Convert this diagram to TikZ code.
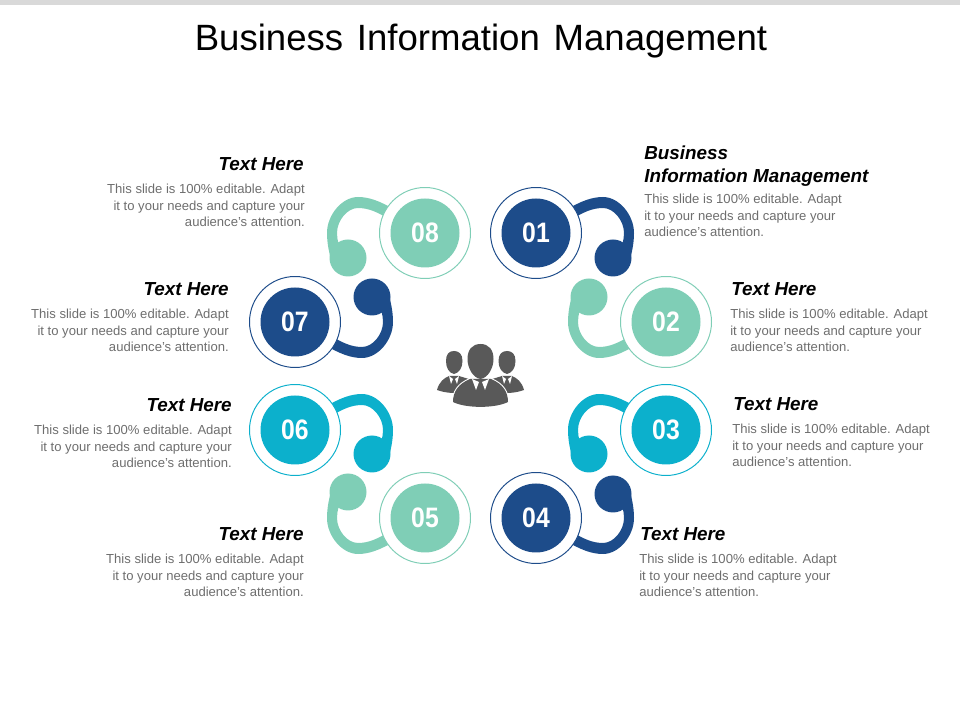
\documentclass[tikz,border=0pt]{standalone}
\usepackage{fontspec}
\setmainfont{Liberation Sans}
\newfontfamily\numfont[FakeStretch=0.88]{Liberation Sans}
\usetikzlibrary{shapes}
\definecolor{navyc}{HTML}{1D4C8A}
\definecolor{mintc}{HTML}{7FCEB6}
\definecolor{cyanc}{HTML}{0CB0CC}
\definecolor{bodyc}{HTML}{6E6E6E}
\definecolor{iconc}{HTML}{595959}
\newcommand{\bodytxt}{This slide is 100\% editable. Adapt\\it to your needs and capture your\\audience's attention.}
\tikzset{
    ring/.style = {circle, fill=white, line width=0.7pt, minimum size=91*0.025cm, inner sep=0pt},
    disc/.style = {circle, minimum size=69*0.025cm, inner sep=0pt, text=white, font=\numfont\fontsize{20}{20}\selectfont\bfseries},
    ball/.style = {circle, minimum size=37*0.025cm, inner sep=0pt},
    headt/.style = {inner sep=0pt, text=black, font=\fontsize{13.4}{16.4}\selectfont\bfseries\itshape},
    bodyt/.style = {inner sep=0pt, text=bodyc, font=\fontsize{9.3}{11.6}\selectfont},
    pics/arm/.style = {code={
        \fill (30,-23) .. controls (45,-32) and (56,-36) .. (67,-36)
            .. controls (83,-36) and (98,-18) .. (98,0)
            .. controls (98,10) and (96,20) .. (93,30) -- (80,25)
            -- (86,12) .. controls (87.5,7) and (88,4) .. (88,0)
            .. controls (88,-12) and (78,-25) .. (67,-25)
            .. controls (57,-25) and (47,-21) .. (35,-13) -- cycle;
    }},
    pics/staff/.style = {code={
        \fill (437,390) .. controls (439,382) and (444,378) .. (449,376) -- (459,376) -- (472,380) -- (466,392) .. controls (456,394) and (445,393) .. (437,390) -- cycle;
        \fill (454,374) .. controls (449,373) and (446,368) .. (446,361) .. controls (446,354) and (449,351) .. (454,351) .. controls (459,351) and (462.5,354) .. (462.5,361) .. controls (462.5,368) and (459,373) .. (454,374) -- cycle;
        \fill (524,390) .. controls (522,382) and (517,378) .. (512,376) -- (502,376) -- (489,380) -- (495,392) .. controls (505,394) and (516,393) .. (524,390) -- cycle;
        \fill (507,374) .. controls (512,373) and (515.5,368) .. (515.5,361) .. controls (515.5,354) and (512,351) .. (507,351) .. controls (502,351) and (498.5,354) .. (498.5,361) .. controls (498.5,368) and (502,373) .. (507,374) -- cycle;
        \draw[white, line width=1.5pt] (453,402) .. controls (453,392) and (458,384) .. (470,379) -- (491,379) .. controls (503,384) and (508,392) .. (508,402);
        \fill (453,402) .. controls (453,392) and (458,384) .. (470,379) -- (491,379) .. controls (503,384) and (508,392) .. (508,402) .. controls (495,408.5) and (466,408.5) .. (453,402) -- cycle;
        \fill (480.5,344) .. controls (472,344) and (467.5,350) .. (467.5,359) .. controls (467.5,368) and (473,378) .. (480.5,379) .. controls (488,378) and (493.5,368) .. (493.5,359) .. controls (493.5,350) and (489,344) .. (480.5,344) -- cycle;
        \fill[white] (472,379) -- (479,382) -- (476,390) -- cycle;
        \fill[white] (489,379) -- (482,382) -- (485,390) -- cycle;
        \fill[white] (449,376) -- (453,379) -- (451,384) -- cycle;
        \fill[white] (459,376) -- (455,379) -- (457,384) -- cycle;
        \fill[white] (512,376) -- (508,379) -- (510,384) -- cycle;
        \fill[white] (502,376) -- (506,379) -- (504,384) -- cycle;
    }}
}
\begin{document}
\begin{tikzpicture}[x=0.025cm,y=-0.025cm]
\useasboundingbox (0,0) rectangle (960,720);
\fill[black!15] (0,0) rectangle (960,5);
\node[inner sep=0pt, font=\fontsize{26}{30}\selectfont] at (481,41) (title) {Business\hspace{0.1em} Information\hspace{0.1em} Management};
%
\pic[navyc] at (536,233) {arm};
\pic[mintc,xscale=-1,yscale=-1] at (666,322) {arm};
\pic[cyanc,xscale=-1] at (666,430) {arm};
\pic[navyc,yscale=-1] at (536,518) {arm};
\pic[mintc,xscale=-1,yscale=-1] at (425,518) {arm};
\pic[cyanc] at (295,430) {arm};
\pic[navyc,yscale=-1] at (295,322) {arm};
\pic[mintc,xscale=-1] at (425,233) {arm};
%
\node[ball,fill=navyc] at (613,258) (b1) {};
\node[ball,fill=mintc] at (589,297) (b2) {};
\node[ball,fill=cyanc] at (589,454) (b3) {};
\node[ball,fill=navyc] at (613,494) (b4) {};
\node[ball,fill=mintc] at (348,492) (b5) {};
\node[ball,fill=cyanc] at (372,454) (b6) {};
\node[ball,fill=navyc] at (372,297) (b7) {};
\node[ball,fill=mintc] at (348,258) (b8) {};
%
\node[ring,draw=navyc] at (536,233) (r1) {};
\node[ring,draw=mintc] at (666,322) (r2) {};
\node[ring,draw=cyanc] at (666,430) (r3) {};
\node[ring,draw=navyc] at (536,518) (r4) {};
\node[ring,draw=mintc] at (425,518) (r5) {};
\node[ring,draw=cyanc] at (295,430) (r6) {};
\node[ring,draw=navyc] at (295,322) (r7) {};
\node[ring,draw=mintc] at (425,233) (r8) {};
%
\node[disc,fill=navyc] at (r1) (a1) {01};
\node[disc,fill=mintc] at (r2) (a2) {02};
\node[disc,fill=cyanc] at (r3) (a3) {03};
\node[disc,fill=navyc] at (r4) (a4) {04};
\node[disc,fill=mintc] at (r5) (a5) {05};
\node[disc,fill=cyanc] at (r6) (a6) {06};
\node[disc,fill=navyc] at (r7) (a7) {07};
\node[disc,fill=mintc] at (r8) (a8) {08};
%
\pic[iconc] at (0,0) {staff};
%
\node[headt,anchor=west,align=left] at (644,166) (h1) {Business\\Information Management};
\node[headt,anchor=west] at (731,289) (h2) {Text Here};
\node[headt,anchor=west] at (733,404) (h3) {Text Here};
\node[headt,anchor=west] at (640,534) (h4) {Text Here};
\node[headt,anchor=east] at (304,534) (h5) {Text Here};
\node[headt,anchor=east] at (232,405) (h6) {Text Here};
\node[headt,anchor=east] at (229,289) (h7) {Text Here};
\node[headt,anchor=east] at (304,164) (h8) {Text Here};
%
\node[bodyt,anchor=west,align=left] at (644,215.5) (t1) {\bodytxt};
\node[bodyt,anchor=west,align=left] at (730,330.5) (t2) {\bodytxt};
\node[bodyt,anchor=west,align=left] at (732,445.5) (t3) {\bodytxt};
\node[bodyt,anchor=west,align=left] at (639,575.5) (t4) {\bodytxt};
\node[bodyt,anchor=east,align=right] at (304,575.5) (t5) {\bodytxt};
\node[bodyt,anchor=east,align=right] at (232,446.5) (t6) {\bodytxt};
\node[bodyt,anchor=east,align=right] at (229,330.5) (t7) {\bodytxt};
\node[bodyt,anchor=east,align=right] at (305,205.5) (t8) {\bodytxt};
\end{tikzpicture}
\end{document}
